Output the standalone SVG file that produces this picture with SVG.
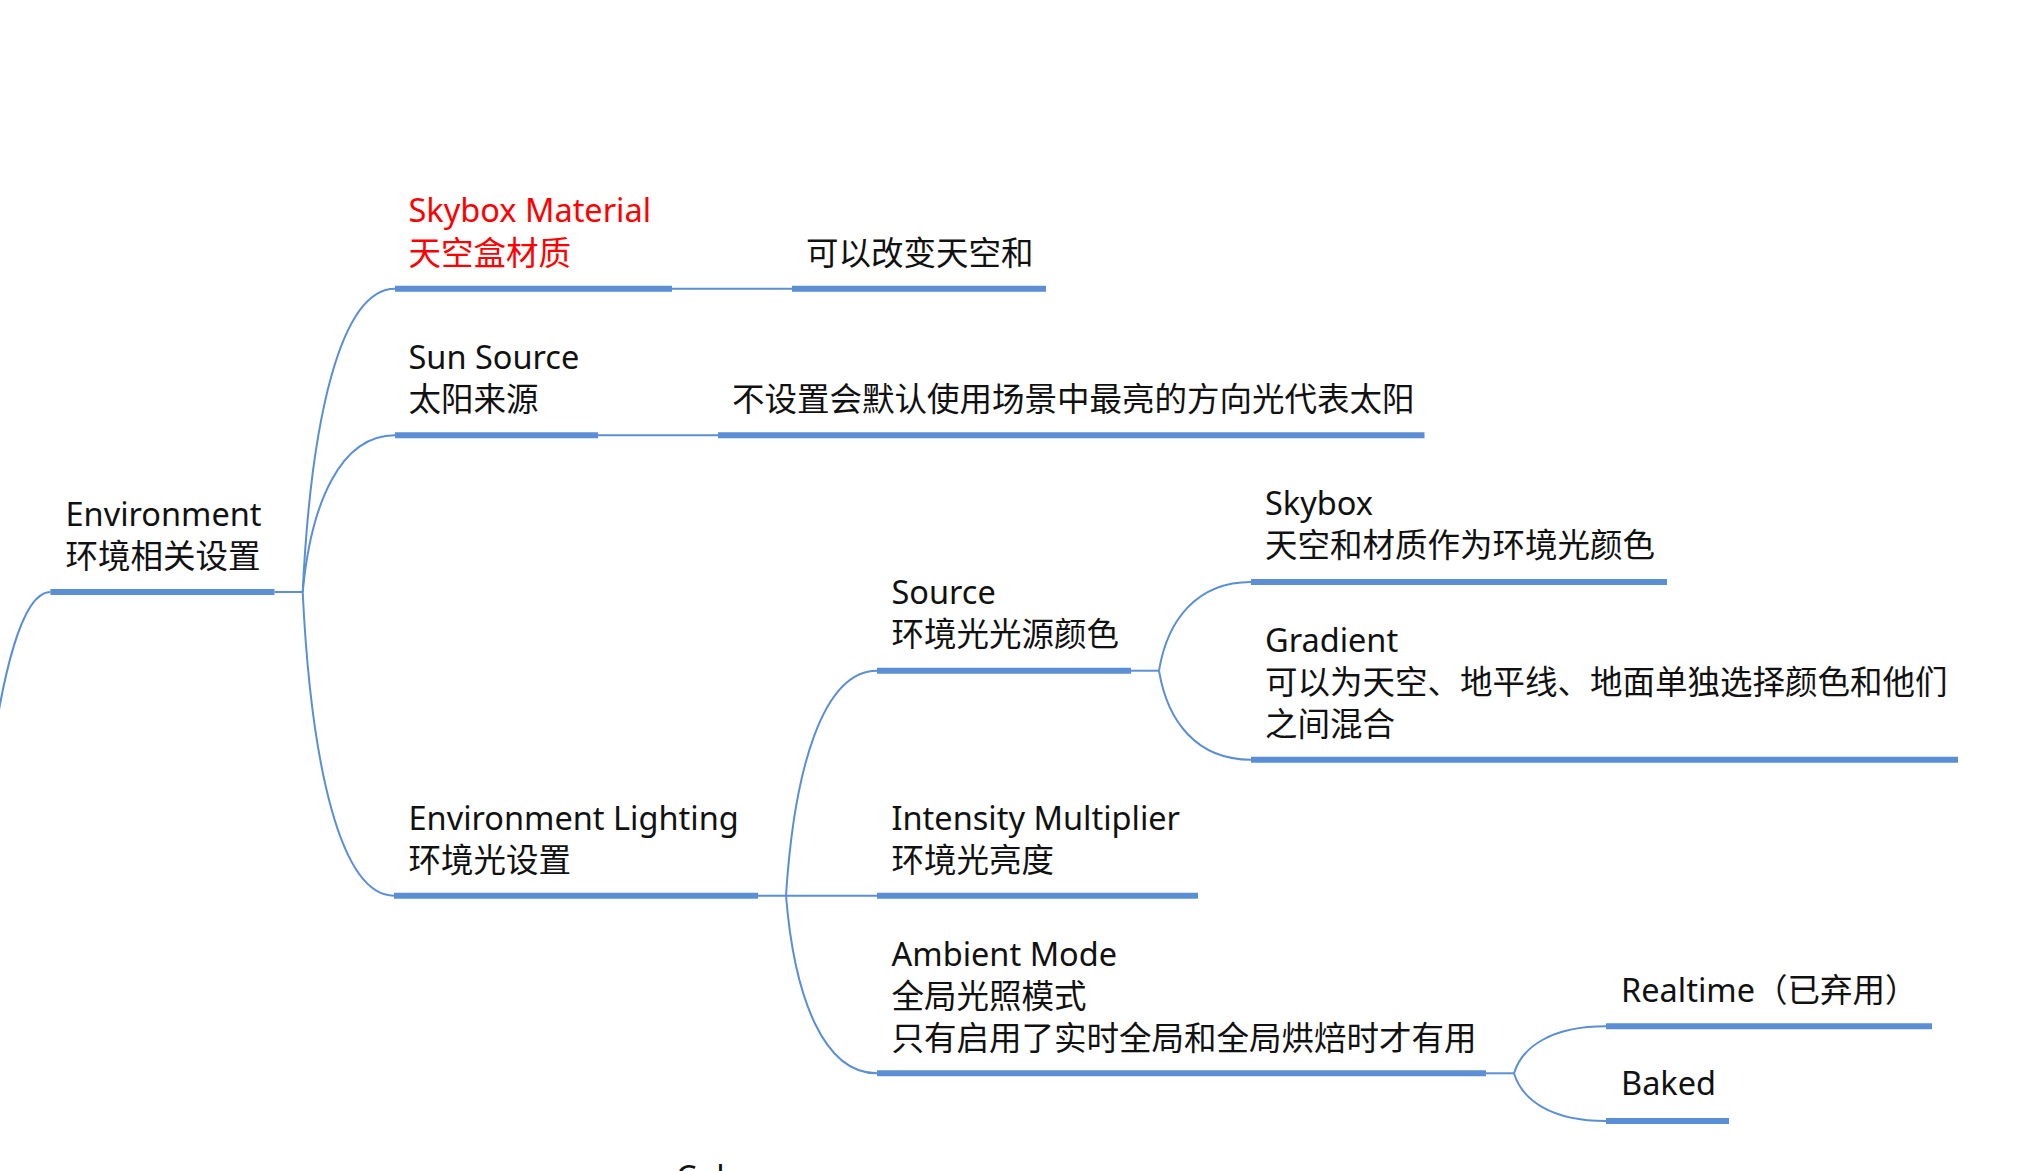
<svg xmlns="http://www.w3.org/2000/svg" width="2037" height="1171" viewBox="0 0 2037 1171">
<style>
text{font-family:"Noto Sans","Noto Sans CJK SC",sans-serif;font-size:32.5px;fill:#111}
.red{fill:#ff0000}
.ul{stroke:#5a8fd6;stroke-width:6;fill:none}
.ln{stroke:#5a8fd6;stroke-width:2;fill:none}
</style>
<rect width="2037" height="1171" fill="#ffffff"/>
<g id="connectors">
<path class="ln" d="M-43,1314 C-35,902 -5,592 50.4,592"/>
<path class="ln" d="M274.5,592 H302.7"/>
<path class="ln" d="M302.7,592 C311,419.1 340.5,288.7 395,288.7"/>
<path class="ln" d="M302.7,592 C311,502.7 340.5,435.3 395,435.3"/>
<path class="ln" d="M302.7,592 C311,765.1 340.5,895.7 394,895.7"/>
<path class="ln" d="M672,288.7 H792"/>
<path class="ln" d="M598,435.3 H718"/>
<path class="ln" d="M758,895.7 H877"/>
<path class="ln" d="M786,895.7 C794.2,767.5 823.3,670.7 877,670.7"/>
<path class="ln" d="M786,895.7 C794.2,996.9 823.3,1073.3 877,1073.3"/>
<path class="ln" d="M1131,670.7 H1159"/>
<path class="ln" d="M1159,670.7 C1167.3,620.1 1196.7,582 1251,582"/>
<path class="ln" d="M1159,670.7 C1167.3,721.4 1196.7,759.7 1251,759.7"/>
<path class="ln" d="M1486,1073.3 H1514"/>
<path class="ln" d="M1514,1073.3 C1522.3,1046.5 1551.7,1026.3 1606,1026.3"/>
<path class="ln" d="M1514,1073.3 C1522.3,1100.5 1551.7,1121 1606,1121"/>
</g>
<g id="environment">
<text x="65.5" y="525.7">Environment</text>
<text x="65.5" y="568">环境相关设置</text>
<path class="ul" d="M50.4,592 H274.5"/>
</g>
<g id="skybox-material">
<text class="red" x="408.5" y="222">Skybox Material</text>
<text class="red" x="408.5" y="264.5">天空盒材质</text>
<path class="ul" d="M395,288.7 H672"/>
</g>
<g id="skybox-material-note">
<text x="806" y="264.5">可以改变天空和</text>
<path class="ul" d="M792,288.7 H1046"/>
</g>
<g id="sun-source">
<text x="408.5" y="369">Sun Source</text>
<text x="408.5" y="411">太阳来源</text>
<path class="ul" d="M395,435.3 H598"/>
</g>
<g id="sun-source-note">
<text x="732" y="411">不设置会默认使用场景中最亮的方向光代表太阳</text>
<path class="ul" d="M718,435.3 H1424.5"/>
</g>
<g id="environment-lighting">
<text x="408.5" y="830">Environment Lighting</text>
<text x="408.5" y="871.5">环境光设置</text>
<path class="ul" d="M394,895.7 H758"/>
</g>
<g id="source">
<text x="891.5" y="604">Source</text>
<text x="891.5" y="646">环境光光源颜色</text>
<path class="ul" d="M877,670.7 H1131"/>
</g>
<g id="skybox">
<text x="1265" y="515">Skybox</text>
<text x="1265" y="557">天空和材质作为环境光颜色</text>
<path class="ul" d="M1251,582 H1667"/>
</g>
<g id="gradient">
<text x="1265" y="651.7">Gradient</text>
<text x="1265" y="693.5">可以为天空、地平线、地面单独选择颜色和他们</text>
<text x="1265" y="735.5">之间混合</text>
<path class="ul" d="M1251,759.7 H1958"/>
</g>
<g id="intensity-multiplier">
<text x="891.5" y="830">Intensity Multiplier</text>
<text x="891.5" y="871.5">环境光亮度</text>
<path class="ul" d="M877,895.7 H1198"/>
</g>
<g id="ambient-mode">
<text x="891.5" y="965.7">Ambient Mode</text>
<text x="891.5" y="1007.5">全局光照模式</text>
<text x="891.5" y="1049.5">只有启用了实时全局和全局烘焙时才有用</text>
<path class="ul" d="M877,1073.3 H1486"/>
</g>
<g id="realtime">
<text x="1621" y="1002">Realtime（已弃用）</text>
<path class="ul" d="M1606,1026.3 H1932"/>
</g>
<g id="baked">
<text x="1621" y="1095">Baked</text>
<path class="ul" d="M1606,1121 H1729"/>
</g>
<g id="color">
<text x="676" y="1189">Color</text>
</g>
</svg>
